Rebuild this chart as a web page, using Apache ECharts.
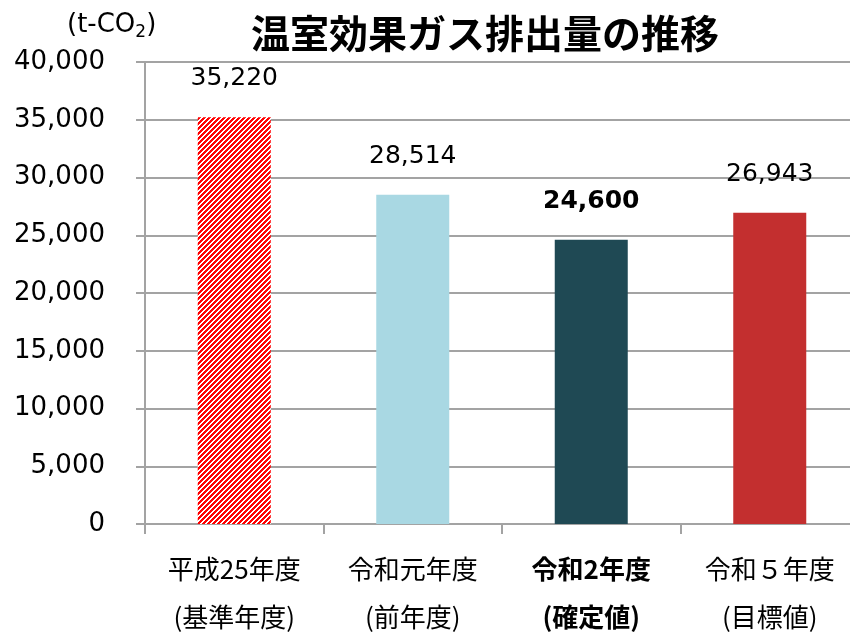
<!DOCTYPE html>
<html>
<head>
<meta charset="utf-8">
<script src="https://cdn.jsdelivr.net/npm/echarts@6/dist/echarts.min.js"></script>
<style>
  html, body { margin: 0; padding: 0; background: #fff; }
  #chart { width: 850px; height: 633px; }
</style>
</head>
<body>
<div id="chart"></div>
<script>
// data
var categories = ['平成25年度\n(基準年度)', '令和元年度\n(前年度)', '令和2年度\n(確定値)', '令和５年度\n(目標値)'];
var emissions = [35220, 28514, 24600, 26943];
var barColors = ['stripe', '#A9D8E3', '#1F4954', '#C32F2F'];
var boldIndex = 2;

var numFont = '"DejaVu Sans", Verdana, sans-serif';
var jpFont = '"Noto Sans CJK JP", sans-serif';
var gridGray = '#A3A3A3';

// red / white diagonal hatch for the base year bar
function stripePattern() {
  var n = 5;
  var c = document.createElement('canvas');
  c.width = n;
  c.height = n;
  var ctx = c.getContext('2d');
  ctx.fillStyle = '#ffffff';
  ctx.fillRect(0, 0, n, n);
  ctx.fillStyle = '#FF0000';
  for (var x = 0; x < n; x++) {
    for (var y = 0; y < n; y++) {
      if ((x + y) % n < 3) ctx.fillRect(x, y, 1, 1);
    }
  }
  return { image: c, repeat: 'repeat' };
}

var chart = echarts.init(document.getElementById('chart'), null, { renderer: 'canvas' });

var catData = categories.map(function (c, i) {
  var item = { value: c };
  if (i === boldIndex) item.textStyle = { fontWeight: 'bold' };
  return item;
});

var barData = emissions.map(function (v, i) {
  return {
    value: v,
    itemStyle: { color: barColors[i] === 'stripe' ? stripePattern() : barColors[i] },
    label: { fontWeight: i === boldIndex ? 'bold' : 'normal' }
  };
});

var option = {
  backgroundColor: '#ffffff',
  animation: false,
  title: {
    text: '温室効果ガス排出量の推移',
    left: 480,
    top: 9,
    textAlign: 'center',
    textStyle: { fontFamily: jpFont, fontWeight: 'bold', fontSize: 39, color: '#000' }
  },
  graphic: [{
    type: 'text',
    left: 67,
    top: 12,
    style: {
      text: '(t-CO{sub|2})',
      fontFamily: numFont,
      fontSize: 26,
      fill: '#000',
      rich: {
        sub: { fontFamily: numFont, fontSize: 17, padding: [16, 0, 0, 0] }
      }
    }
  }],
  grid: { left: 145, right: -9, top: 62, bottom: 109, containLabel: false, outerBoundsMode: 'none' },
  xAxis: {
    type: 'category',
    data: catData,
    axisLine: { lineStyle: { color: gridGray, width: 2 } },
    axisTick: { show: true, length: 10, alignWithLabel: false, lineStyle: { color: gridGray, width: 2 } },
    axisLabel: {
      interval: 0,
      margin: 21,
      fontFamily: jpFont,
      fontSize: 26,
      lineHeight: 48,
      color: '#000'
    }
  },
  yAxis: {
    type: 'value',
    min: 0,
    max: 40000,
    interval: 5000,
    axisLine: { show: true, lineStyle: { color: gridGray, width: 2 } },
    axisTick: { show: true, length: 9, inside: false, lineStyle: { color: gridGray, width: 2 } },
    splitLine: { show: true, lineStyle: { color: gridGray, width: 2 } },
    axisLabel: {
      margin: 40,
      fontFamily: numFont,
      fontSize: 26,
      color: '#000',
      formatter: function (v) { return v.toLocaleString('en-US'); }
    }
  },
  series: [{
    type: 'bar',
    data: barData,
    barWidth: 73,
    label: {
      show: true,
      position: 'top',
      distance: 26,
      fontFamily: numFont,
      fontSize: 25,
      color: '#000',
      formatter: function (p) { return p.value.toLocaleString('en-US'); }
    }
  }]
};

chart.setOption(option);
</script>
</body>
</html>
